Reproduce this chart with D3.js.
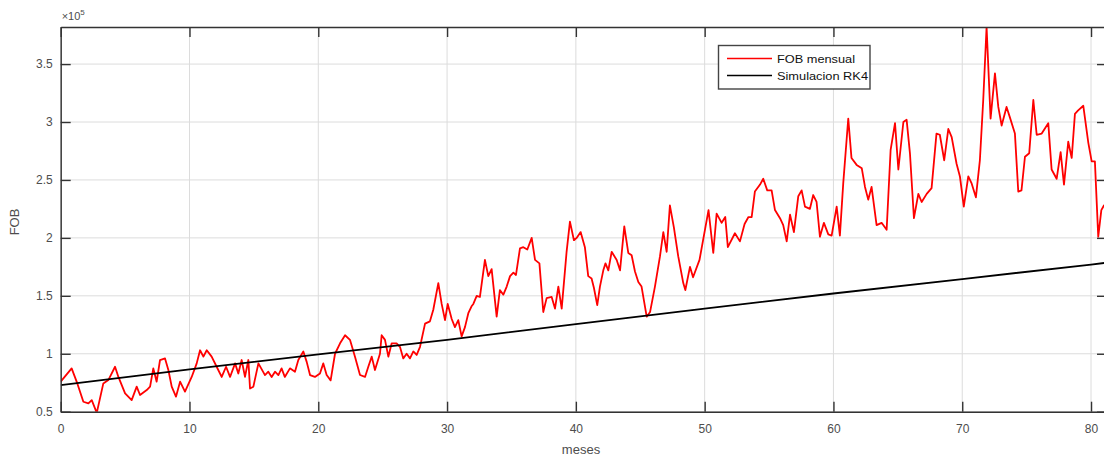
<!DOCTYPE html>
<html>
<head>
<meta charset="utf-8">
<script src="https://cdn.jsdelivr.net/npm/d3@7"></script>
<style>
  html, body { margin: 0; padding: 0; background: #fff; }
  svg { display: block; font-family: "Liberation Sans", Arial, Helvetica, sans-serif; }
</style>
</head>
<body>
<div id="chart"></div>
<script>
// ---- data (FOB in units of 10^5) ----
const fobMeses = [0,0.85,1.29,1.76,2.15,2.41,2.8,3.31,3.7,4.22,4.48,5.0,5.51,5.9,6.16,6.68,6.94,7.19,7.45,7.71,8.1,8.36,8.62,8.95,9.27,9.65,10.17,10.56,10.82,11.08,11.34,11.72,12.11,12.5,12.84,13.15,13.54,13.79,14.05,14.31,14.57,14.7,14.96,15.35,15.86,16.12,16.38,16.64,16.9,17.15,17.4,17.8,18.19,18.45,18.84,19.1,19.36,19.74,20.13,20.39,20.65,20.96,21.3,21.69,22.08,22.46,22.85,23.24,23.63,23.89,24.15,24.4,24.79,24.92,25.18,25.44,25.7,26.08,26.34,26.6,26.86,27.12,27.38,27.64,27.9,28.29,28.67,28.93,29.32,29.58,29.84,30.05,30.36,30.61,30.87,31.13,31.39,31.65,31.9,32.04,32.3,32.55,32.94,33.2,33.46,33.85,34.1,34.37,34.63,34.89,35.15,35.35,35.66,35.92,36.23,36.57,36.83,37.17,37.47,37.73,38.12,38.38,38.64,38.9,39.28,39.54,39.85,40.06,40.37,40.7,40.96,41.22,41.4,41.66,41.87,42.13,42.3,42.52,42.78,43.17,43.43,43.76,44.07,44.33,44.59,44.85,45.1,45.5,45.76,46.14,46.53,46.79,47.05,47.3,47.61,47.95,48.34,48.5,48.86,49.1,49.6,50.3,50.67,50.93,51.32,51.6,51.8,52.35,52.74,53.1,53.4,53.65,53.9,54.3,54.55,54.86,55.2,55.46,55.85,56.1,56.37,56.63,56.93,57.27,57.53,57.79,58.17,58.43,58.69,58.95,59.26,59.6,59.86,60.25,60.5,60.76,61.15,61.4,61.8,62.2,62.45,62.7,62.96,63.35,63.74,64.13,64.44,64.78,65.04,65.43,65.68,65.94,66.25,66.59,66.85,67.24,67.62,68.0,68.26,68.6,68.92,69.18,69.56,69.82,70.12,70.47,70.73,71.06,71.37,71.63,71.89,72.2,72.54,72.8,73.06,73.44,73.7,74.09,74.35,74.6,74.87,75.2,75.52,75.78,76.17,76.68,76.94,77.33,77.64,77.9,78.23,78.5,78.75,79.0,79.4,79.79,80.05,80.3,80.56,80.8,81.0,81.3];
const fobValores = [0.76,0.874,0.744,0.586,0.572,0.6,0.49,0.744,0.773,0.888,0.8,0.658,0.6,0.716,0.644,0.687,0.716,0.874,0.759,0.946,0.96,0.86,0.716,0.63,0.759,0.673,0.8,0.917,1.03,0.975,1.03,0.975,0.888,0.8,0.888,0.8,0.917,0.83,0.946,0.8,0.946,0.7,0.716,0.917,0.816,0.845,0.8,0.845,0.816,0.874,0.8,0.874,0.845,0.946,1.02,0.93,0.816,0.8,0.83,0.917,0.816,0.77,1.0,1.09,1.16,1.12,0.975,0.817,0.8,0.89,0.975,0.86,1.0,1.16,1.12,0.975,1.09,1.09,1.06,0.96,1.0,0.96,1.02,0.99,1.06,1.26,1.28,1.38,1.61,1.43,1.29,1.43,1.3,1.23,1.29,1.15,1.23,1.35,1.41,1.43,1.5,1.49,1.81,1.67,1.73,1.32,1.55,1.51,1.58,1.67,1.7,1.68,1.91,1.92,1.9,2.0,1.81,1.78,1.36,1.48,1.49,1.39,1.58,1.39,1.88,2.14,1.98,2.0,2.05,1.92,1.67,1.65,1.57,1.42,1.58,1.72,1.78,1.72,1.88,1.81,1.72,2.1,1.87,1.85,1.71,1.62,1.58,1.32,1.36,1.58,1.84,2.05,1.88,2.28,2.09,1.84,1.61,1.55,1.75,1.66,1.81,2.24,1.87,2.21,2.13,2.18,1.92,2.04,1.97,2.12,2.18,2.18,2.4,2.46,2.51,2.41,2.41,2.24,2.17,2.11,1.97,2.2,2.05,2.36,2.41,2.27,2.25,2.37,2.31,2.01,2.13,2.03,2.02,2.27,2.02,2.47,3.03,2.69,2.63,2.6,2.44,2.33,2.44,2.11,2.13,2.07,2.76,2.99,2.59,3.0,3.02,2.73,2.17,2.38,2.31,2.38,2.43,2.9,2.89,2.67,2.94,2.87,2.64,2.53,2.27,2.53,2.47,2.35,2.67,3.19,3.82,3.03,3.42,3.13,2.97,3.13,3.04,2.9,2.4,2.41,2.7,2.73,3.19,2.89,2.9,2.99,2.59,2.51,2.74,2.46,2.83,2.69,3.07,3.1,3.14,2.82,2.66,2.66,2.01,2.24,2.28,2.3];

const simMeses = [0,10,20,30,40,50,60,70,80,81.3];
const simValores = [0.73,0.865,0.995,1.12,1.255,1.39,1.52,1.645,1.77,1.787];

const xTicks = [0,10,20,30,40,50,60,70,80];
const xTickLabels = ["0","10","20","30","40","50","60","70","80"];
const yTicks = [0.5,1,1.5,2,2.5,3,3.5];
const yTickLabels = ["0.5","1","1.5","2","2.5","3","3.5"];
const legendLabels = ["FOB mensual","Simulacion RK4"];
const seriesColors = ["#ff0000","#000000"];

// ---- layout ----
const W = 1104, H = 459;
const mLeft = 60.7, mRight = 1107, mTop = 27, mBottom = 411.7;

const x = d3.scaleLinear().domain([0, 81.24]).range([mLeft, mRight]);
const y = d3.scaleLinear().domain([0.5, 3.82]).range([mBottom, mTop]);

const svg = d3.select("#chart").append("svg").attr("width", W).attr("height", H);
svg.append("rect").attr("width", W).attr("height", H).attr("fill", "#fff");

svg.append("defs").append("clipPath").attr("id", "clip")
  .append("rect").attr("x", mLeft).attr("y", mTop).attr("width", mRight - mLeft).attr("height", mBottom - mTop);

// grid
const grid = svg.append("g").attr("class", "grid");
grid.selectAll("line.gx").data(xTicks).join("line").attr("class", "gx")
  .attr("x1", d => x(d)).attr("x2", d => x(d)).attr("y1", mTop).attr("y2", mBottom)
  .attr("stroke", "#dcdcdc").attr("stroke-width", 1);
grid.selectAll("line.gy").data(yTicks).join("line").attr("class", "gy")
  .attr("y1", d => y(d)).attr("y2", d => y(d)).attr("x1", mLeft).attr("x2", mRight)
  .attr("stroke", "#dcdcdc").attr("stroke-width", 1);

// data lines
const plot = svg.append("g").attr("clip-path", "url(#clip)");
const fobData = fobMeses.map((m, i) => [m, fobValores[i]]);
const simData = simMeses.map((m, i) => [m, simValores[i]]);
const line = d3.line().x(d => x(d[0])).y(d => y(d[1]));
plot.append("path").datum(fobData).attr("d", line)
  .attr("fill", "none").attr("stroke", seriesColors[0]).attr("stroke-width", 1.8).attr("stroke-linejoin", "round");
plot.append("path").datum(simData).attr("d", line)
  .attr("fill", "none").attr("stroke", seriesColors[1]).attr("stroke-width", 1.8);

// axes
const axisColor = "#333";
const labelColor = "#4d4d4d";
function styleAxis(g) {
  g.selectAll("path.domain").attr("stroke", axisColor).attr("stroke-width", 1.4);
  g.selectAll(".tick line").attr("stroke", axisColor).attr("stroke-width", 1.4);
  g.selectAll(".tick text").attr("fill", labelColor).style("font-size", "12px")
    .style("font-family", "'Liberation Sans', Arial, sans-serif");
}
svg.append("g").attr("transform", `translate(0,${mBottom})`)
  .call(d3.axisBottom(x).tickValues(xTicks).tickFormat((d, i) => xTickLabels[i]).tickSizeInner(-10).tickSizeOuter(0).tickPadding(13))
  .call(styleAxis);
svg.append("g").attr("transform", `translate(0,${mTop})`)
  .call(d3.axisTop(x).tickValues(xTicks).tickFormat("").tickSizeInner(-10).tickSizeOuter(0))
  .call(styleAxis);
svg.append("g").attr("transform", `translate(${mLeft},0)`)
  .call(d3.axisLeft(y).tickValues(yTicks).tickFormat((d, i) => yTickLabels[i]).tickSizeInner(-10).tickSizeOuter(0).tickPadding(8))
  .call(styleAxis);
svg.append("g").attr("transform", `translate(${mRight},0)`)
  .call(d3.axisRight(y).tickValues(yTicks).tickFormat("").tickSizeInner(-10).tickSizeOuter(0))
  .call(styleAxis);

// exponent label
const ex = svg.append("text").attr("x", mLeft + 1).attr("y", 20).attr("fill", labelColor)
  .style("font-size", "11px");
ex.append("tspan").text("×10");
ex.append("tspan").attr("dy", -5).style("font-size", "8px").text("5");

// axis titles
svg.append("text").attr("x", 581).attr("y", 454).attr("text-anchor", "middle")
  .attr("fill", labelColor).style("font-size", "13px").text("meses");
svg.append("text").attr("transform", "translate(19,222) rotate(-90)").attr("text-anchor", "middle")
  .attr("fill", labelColor).style("font-size", "13px").text("FOB");

// legend
const lg = svg.append("g");
lg.append("rect").attr("x", 718.5).attr("y", 45.5).attr("width", 151.5).attr("height", 43.5)
  .attr("fill", "#fff").attr("stroke", "#444").attr("stroke-width", 1.4);
const lgRows = [58.5, 75.5];
legendLabels.forEach((lab, i) => {
  lg.append("line").attr("x1", 727).attr("x2", 772).attr("y1", lgRows[i]).attr("y2", lgRows[i])
    .attr("stroke", seriesColors[i]).attr("stroke-width", 1.6);
  lg.append("text").attr("x", 777).attr("y", lgRows[i] + 4).attr("fill", "#111")
    .style("font-size", "11px").attr("textLength", i === 0 ? 78 : 91).attr("lengthAdjust", "spacingAndGlyphs")
    .text(lab);
});
</script>
</body>
</html>
